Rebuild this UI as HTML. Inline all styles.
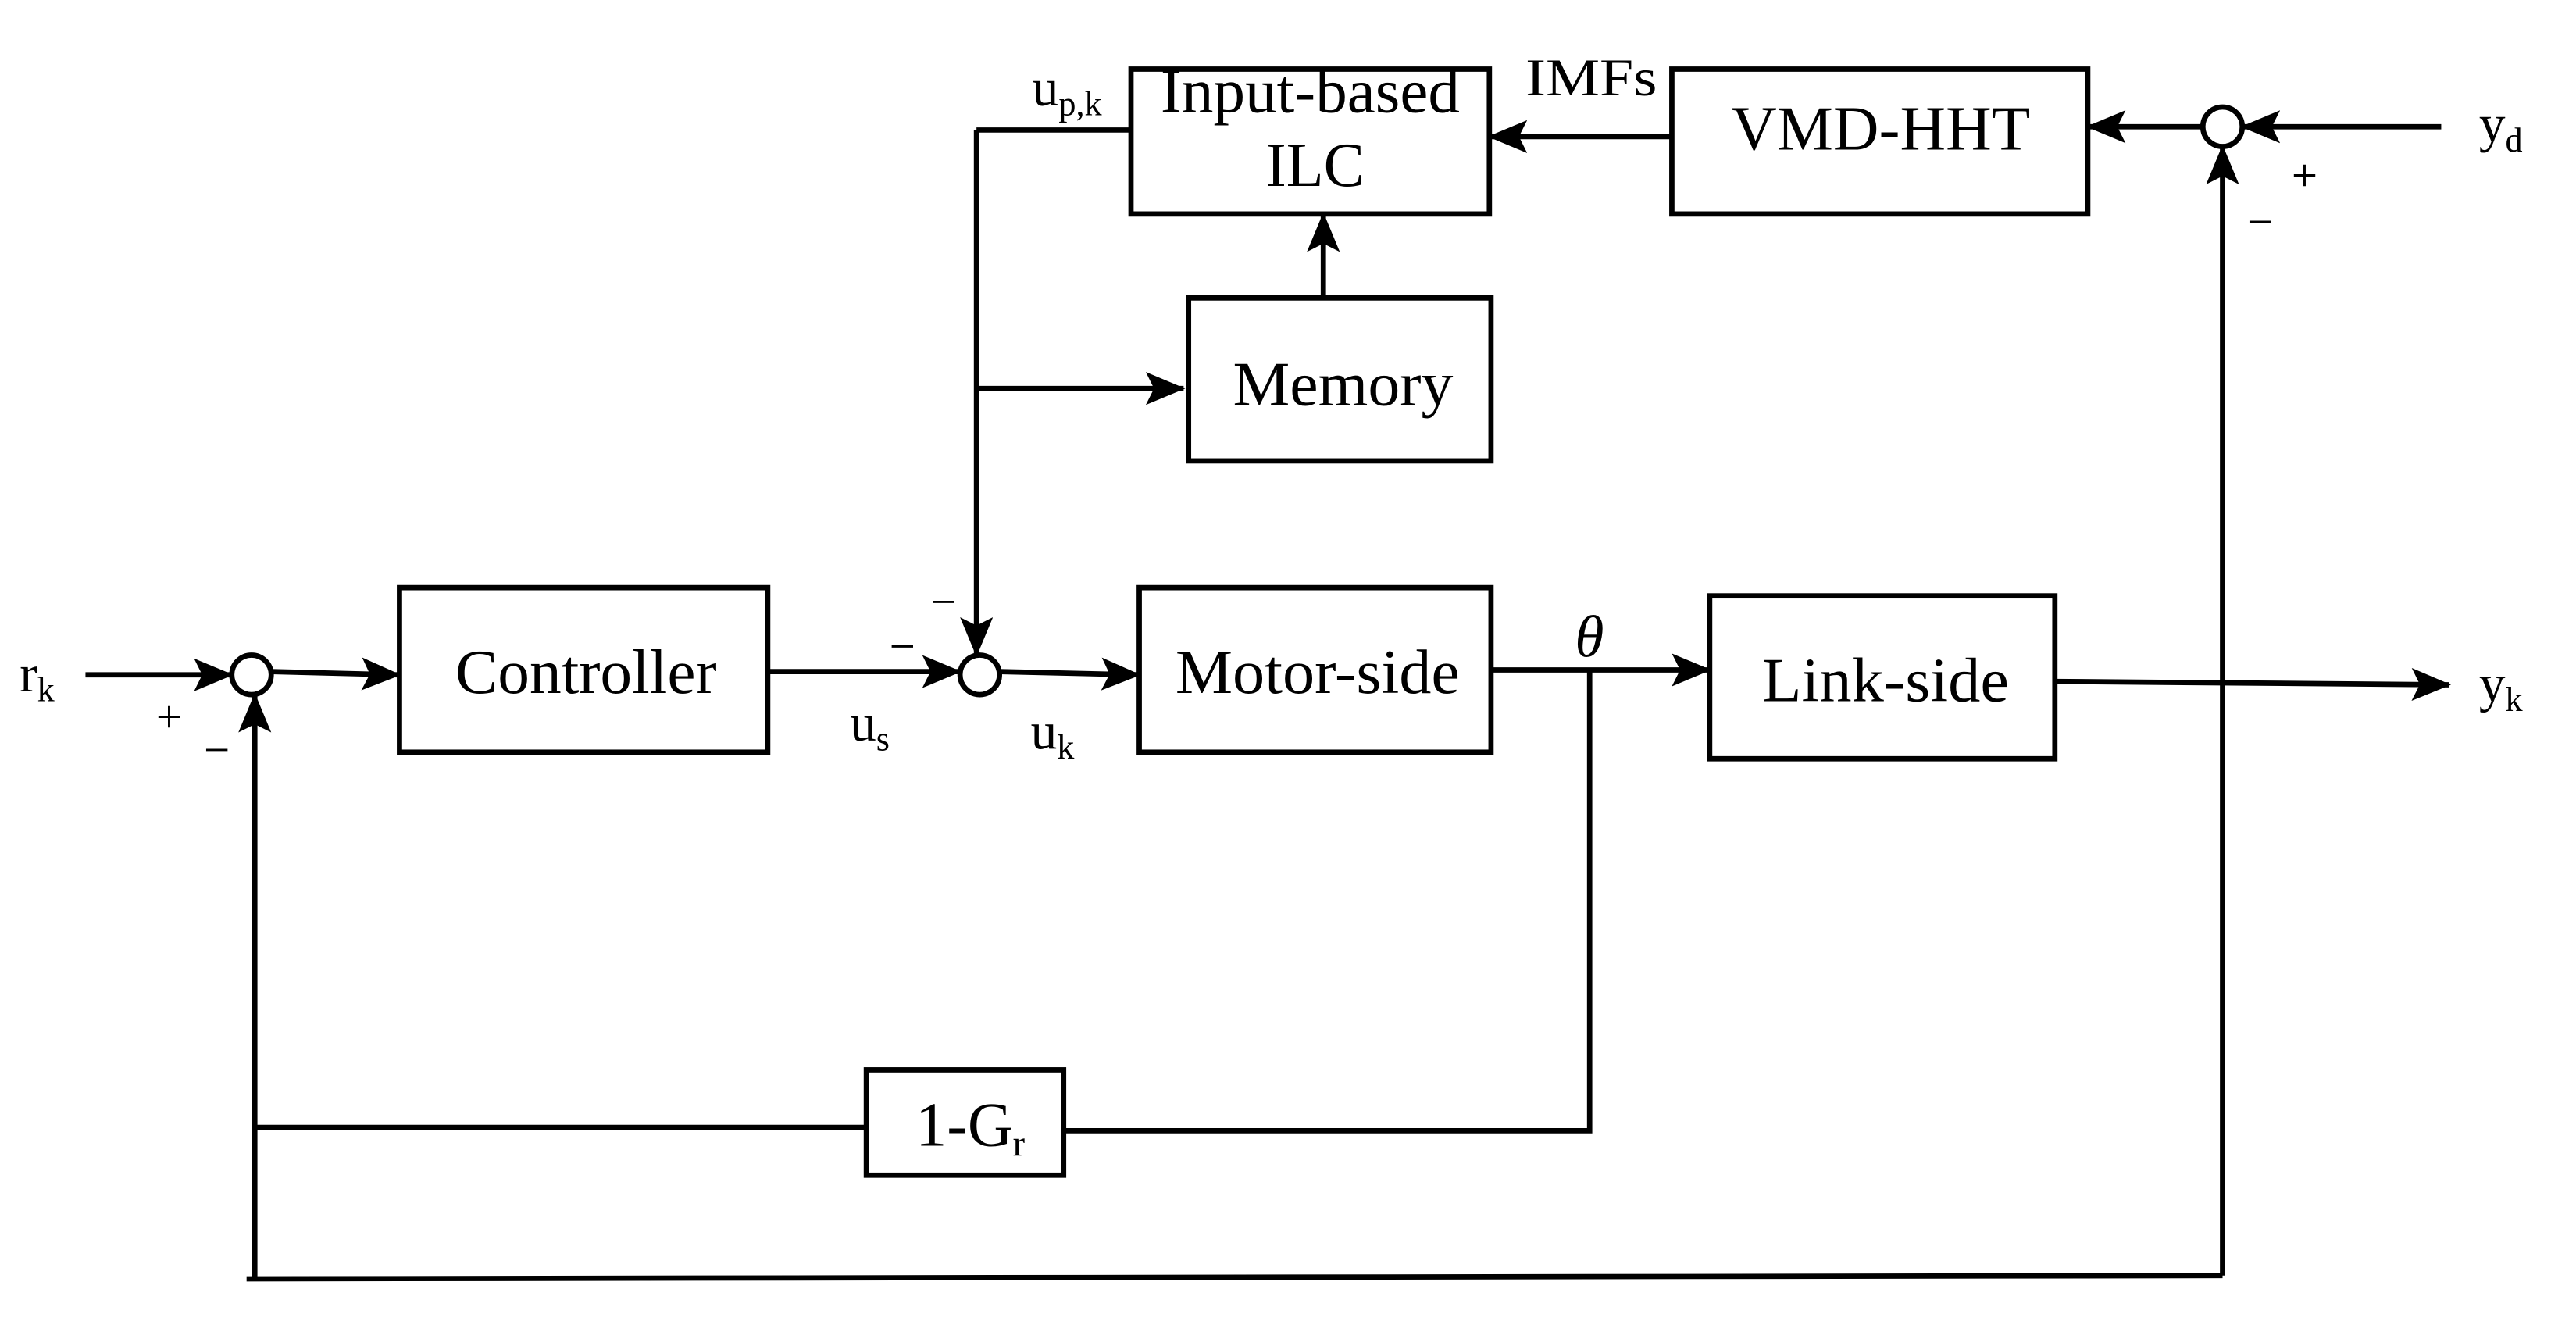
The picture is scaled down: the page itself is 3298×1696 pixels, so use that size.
<!DOCTYPE html>
<html><head><meta charset="utf-8"><style>
html,body{margin:0;padding:0;background:#fff;}
svg{display:block;}
text{font-family:"Liberation Serif",serif;fill:#000;}
</style></head><body>
<svg width="3298" height="1696" viewBox="0 0 1567 805" preserveAspectRatio="none" xmlns="http://www.w3.org/2000/svg">
<defs>
<marker id="a" markerWidth="24" markerHeight="20" refX="23" refY="10" orient="auto" markerUnits="userSpaceOnUse">
<path d="M0,0 L24,10 L0,20 L5,10 z" fill="#000"/>
</marker>
</defs>
<g fill="none" stroke="#000" stroke-width="3.2">
<rect x="688" y="42" width="218" height="88"/>
<rect x="1017" y="42" width="253" height="88"/>
<rect x="723" y="181" width="184" height="99"/>
<rect x="243" y="357" width="224" height="100"/>
<rect x="693" y="357" width="214" height="100"/>
<rect x="1040" y="362" width="210" height="99"/>
<rect x="527" y="650" width="120" height="64"/>
<circle cx="153" cy="410" r="12"/>
<circle cx="596" cy="410" r="12"/>
<circle cx="1352" cy="77" r="12"/>
</g>
<g fill="none" stroke="#000" stroke-width="3.2" marker-end="url(#a)">
<path d="M52,410 H141"/>
<path d="M165,408 L243,410"/>
<path d="M467,408 H584"/>
<path d="M608,408 L693,410"/>
<path d="M907,407 H1040"/>
<path d="M1250,414 L1490,416"/>
<path d="M155,777 V422"/>
<path d="M1352,775 V89"/>
<path d="M1485,77 H1364"/>
<path d="M1340,77 H1270"/>
<path d="M1017,83 H906"/>
<path d="M594,79 V398"/>
<path d="M594,236 H720"/>
<path d="M805,181 V130"/>
</g>
<g fill="none" stroke="#000" stroke-width="3.2">
<path d="M688,79 H594"/>
<path d="M967,407 V687 H647"/>
<path d="M527,685 H155"/>
<path d="M150,777 L1352,775"/>
</g>
<g font-size="38">
<text x="706" y="68" textLength="182" lengthAdjust="spacingAndGlyphs">Input-based</text>
<text x="770" y="113" textLength="60" lengthAdjust="spacingAndGlyphs">ILC</text>
<text x="1053" y="91" textLength="182" lengthAdjust="spacingAndGlyphs">VMD-HHT</text>
<text x="750" y="246" textLength="134" lengthAdjust="spacingAndGlyphs">Memory</text>
<text x="277" y="421" textLength="159" lengthAdjust="spacingAndGlyphs">Controller</text>
<text x="715" y="421" textLength="173" lengthAdjust="spacingAndGlyphs">Motor-side</text>
<text x="1072" y="426" textLength="150" lengthAdjust="spacingAndGlyphs">Link-side</text>
<text x="557" y="696">1-G<tspan font-size="22" dy="6">r</tspan></text>
</g>
<g font-size="32">
<text x="12" y="420">r<tspan font-size="21" dy="6">k</tspan></text>
<text x="95" y="445" font-size="28">+</text>
<text x="124" y="465" font-size="28">−</text>
<text x="541" y="402" font-size="28">−</text>
<text x="566" y="375" font-size="28">−</text>
<text x="517" y="450">u<tspan font-size="21" dy="6">s</tspan></text>
<text x="627" y="455">u<tspan font-size="21" dy="6">k</tspan></text>
<text x="628" y="64">u<tspan font-size="21" dy="6">p,k</tspan></text>
<text x="928" y="58" textLength="80" lengthAdjust="spacingAndGlyphs">IMFs</text>
<text x="958" y="399" font-style="italic" font-size="36">θ</text>
<text x="1508" y="86">y<tspan font-size="21" dy="6">d</tspan></text>
<text x="1394" y="116" font-size="28">+</text>
<text x="1367" y="144" font-size="28">−</text>
<text x="1508" y="426">y<tspan font-size="21" dy="6">k</tspan></text>
</g>
</svg>
</body></html>
